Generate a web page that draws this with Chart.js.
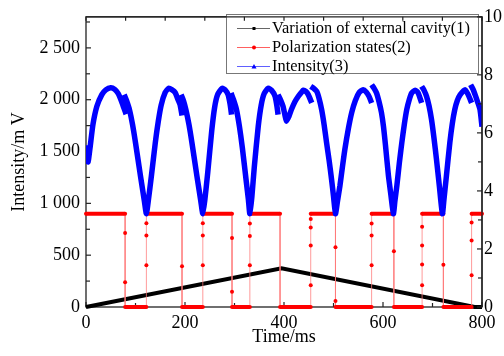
<!DOCTYPE html>
<html><head><meta charset="utf-8">
<script src="https://cdn.jsdelivr.net/npm/chart.js@4.4.1/dist/chart.umd.min.js"></script>
<style>html,body{margin:0;padding:0;background:#fff}#wrap{width:504px;height:356px;position:relative}</style>
</head><body><div id="wrap"><canvas id="c" width="504" height="356"></canvas></div>
<script>
// ---- data ----
const seriesLabels = ['Variation of external cavity(1)', 'Polarization states(2)', 'Intensity(3)'];
const cavityPoints = [[0,0],[395,1.33],[785,0],[800,0]];
const polarizationPoints = [
  [0,900],[79,900],[79,714],[79,240],[79,0],
  [122,0],[122,402],[122,690],[122,808],[122,900],
  [194,900],[194,392],[194,0],
  [236,0],[236,402],[236,690],[236,808],[236,900],
  [295,900],[295,666],[295,146],[295,0],
  [331,0],[331,402],[331,686],[331,806],[331,900],
  [392,900],[392,0],
  [454,0],[454,210],[454,593],[454,768],[454,848],[454,900],
  [504,900],[504,577],[504,57],[504,0],
  [577,0],[577,402],[577,690],[577,806],[577,900],
  [622,900],[622,537],[622,0],
  [679,0],[679,210],[679,410],[679,593],[679,775],[679,900],
  [722,900],[722,408],[722,0],
  [779,0],[779,306],[779,641],[779,816],[779,900],
  [800,900]
];
const intensityPoints = [
  [0,1560],[4,1400],[8,1530],[14,1760],[22,1937],[32,2049],[40,2095],[50,2115],[58,2100],[65,2060],[73,1969],[81,1860],[79,null],
  [77,2049],[82,1990],[88,1900],[94,1760],[100,1585],[110,1266],[118,1020],[122,900],
  [126,1030],[132,1260],[140,1585],[146,1790],[152,1950],[160,2070],[167,2110],[174,2095],[180,2070],[186,2000],[190,1953],[194,1848],[193,null],
  [192,2049],[197,1990],[202,1900],[208,1760],[214,1585],[224,1266],[232,1020],[236,900],
  [240,1030],[246,1300],[254,1700],[260,1930],[266,2050],[275,2110],[281,2095],[287,2049],[291,1960],[294,1857],[293,null],
  [293,2065],[298,2000],[304,1905],[310,1740],[316,1530],[324,1202],[328,1040],[331,900],
  [335,1060],[340,1350],[348,1745],[354,1950],[360,2060],[368,2110],[375,2090],[382,2033],[386,1930],[388,1857],[388,null],
  [388,2049],[393,2000],[398,1937],[402,1850],[405,1793],[410,1840],[415,1905],[422,1980],[429,2033],[435,2070],[439,2091],[444,2080],[449,2049],[456,1969],[455,null],
  [454,2129],[460,2110],[466,2081],[471,2010],[476,1905],[481,1760],[486,1585],[491,1420],[496,1234],[500,1070],[504,900],
  [508,1020],[513,1170],[518,1350],[523,1522],[530,1720],[537,1880],[544,1990],[552,2070],[560,2097],[566,2075],[572,2030],[577,1969],[577,null],
  [577,2145],[582,2110],[587,2065],[592,1980],[597,1873],[601,1740],[605,1560],[611,1266],[616,1080],[621,900],
  [624,1020],[628,1170],[633,1390],[638,1585],[643,1760],[648,1905],[653,2000],[658,2065],[665,2091],[671,2065],[678,1969],[678,null],
  [678,2129],[683,2090],[688,2033],[693,1940],[698,1809],[703,1630],[708,1426],[714,1160],[720,900],
  [723,1030],[728,1260],[735,1585],[740,1770],[745,1905],[750,1990],[756,2049],[766,2097],[772,2049],[779,1969],[778,null],
  [777,2145],[782,2100],[786,2049],[791,1980],[796,1905],[800,1740]
];
const xTicks = [0,200,400,600,800];
const xMinorTicks = [100,300,500,700];
const topTicks = [0,80,160,240,320,400,480,560,640,720,800];
const leftTicks = [0,500,1000,1500,2000,2500];
const leftTickLabels = ['0','500','1 000','1 500','2 000','2 500'];
const leftMinorTicks = [250,750,1250,1750,2250,2750];
const rightTicks = [0,2,4,6,8,10];
const rightMinorTicks = [1,3,5,7,9];

const toXY = arr => arr.map(p => ({x:p[0], y:p[1]}));
const serif = '"Liberation Serif","Times New Roman",serif';
const tickFont = {family: serif, size: 18};

function drawLine(ctx,x1,y1,x2,y2){ctx.beginPath();ctx.moveTo(x1,y1);ctx.lineTo(x2,y2);ctx.stroke();}
function drawTopRight(chart){
  const {ctx, chartArea:a, scales} = chart;
  ctx.save();
  ctx.strokeStyle='#222'; ctx.lineWidth=1.3;
  drawLine(ctx,a.left,a.top,a.right,a.top);
  drawLine(ctx,a.right,a.top,a.right,a.bottom);
  ctx.lineWidth=1.2;
  topTicks.forEach(v=>{const p=scales.x.getPixelForValue(v); drawLine(ctx,p,a.top,p,a.top+4);});
  rightTicks.forEach(v=>{const p=scales.y1.getPixelForValue(v); drawLine(ctx,a.right,p,a.right-5,p);});
  rightMinorTicks.forEach(v=>{const p=scales.y1.getPixelForValue(v); drawLine(ctx,a.right,p,a.right-4,p);});
  ctx.restore();
}

const frameTicks = {
  id:'frameTicks',
  beforeDatasetsDraw(chart){
    const {ctx, chartArea:a, scales} = chart;
    ctx.save();
    ctx.strokeStyle = '#222';
    ctx.lineWidth = 1.3;
    ctx.strokeRect(a.left, a.top, a.right - a.left, a.bottom - a.top);
    ctx.lineWidth = 1.2;
    xTicks.forEach(v=>{const p=scales.x.getPixelForValue(v); drawLine(ctx,p,a.bottom,p,a.bottom-5);});
    xMinorTicks.forEach(v=>{const p=scales.x.getPixelForValue(v); drawLine(ctx,p,a.bottom,p,a.bottom-4);});
    leftTicks.forEach(v=>{const p=scales.y.getPixelForValue(v); drawLine(ctx,a.left,p,a.left+5,p);});
    leftMinorTicks.forEach(v=>{const p=scales.y.getPixelForValue(v); drawLine(ctx,a.left,p,a.left+4,p);});
    ctx.restore();
  },
  afterDraw(chart){ drawTopRight(chart); }
};

const boxLegend = {
  id:'boxLegend',
  afterDatasetsDraw(chart){
    const ctx = chart.ctx;
    const L=226.5, T=14.5, R=478.5, B=73.5;
    ctx.save();
    ctx.fillStyle='#fff'; ctx.fillRect(L,T,R-L,B-T);
    ctx.strokeStyle='#777'; ctx.lineWidth=1; ctx.strokeRect(L,T,R-L,B-T);
    const rows=[28.5,47.5,66.5];
    chart.data.datasets.forEach((ds,i)=>{
      const y=rows[i];
      ctx.strokeStyle=ds.legendLine; ctx.lineWidth=1;
      ctx.beginPath(); ctx.moveTo(237,y); ctx.lineTo(270,y); ctx.stroke();
      ctx.fillStyle=ds.legendMarker;
      const cx=254;
      if(i===0){ ctx.fillRect(cx-1.5,y-1.5,3,3); }
      else if(i===1){ ctx.beginPath(); ctx.arc(cx,y,2,0,Math.PI*2); ctx.fill(); }
      else { ctx.beginPath(); ctx.moveTo(cx,y-2.5); ctx.lineTo(cx+2.5,y+2); ctx.lineTo(cx-2.5,y+2); ctx.closePath(); ctx.fill(); }
      ctx.fillStyle='#000'; ctx.font='16.4px '+serif; ctx.textBaseline='middle'; ctx.textAlign='left';
      ctx.fillText(ds.label, 272, y+0.5);
    });
    ctx.restore();
  }
};

new Chart(document.getElementById('c'), {
  type:'line',
  data:{
    datasets:[
      {label:seriesLabels[0], data:toXY(cavityPoints), yAxisID:'y1', borderColor:'#000', borderWidth:4, pointRadius:0, order:3,
       clip:4, legendLine:'#666', legendMarker:'#000'},
      {label:seriesLabels[1], data:toXY(polarizationPoints), yAxisID:'y', borderColor:'#ff0000', borderWidth:1,
       pointRadius:2, pointBackgroundColor:'#ff0000', pointBorderWidth:0, order:2, clip:4,
       segment:{
         borderColor: c => c.p0.parsed.y === c.p1.parsed.y ? '#ff0000' : 'rgba(255,120,120,0.75)',
         borderWidth: c => c.p0.parsed.y === c.p1.parsed.y ? 4 : 1
       },
       legendLine:'#ff6060', legendMarker:'#ff0000'},
      {label:seriesLabels[2], data:toXY(intensityPoints), yAxisID:'y', borderColor:'#0000ff', borderWidth:5.5, pointRadius:0,
       tension:0.2, spanGaps:false, order:1, legendLine:'#6060ff', legendMarker:'#0000ff'}
    ]
  },
  options:{
    responsive:false, animation:false, devicePixelRatio:1,
    layout:{padding:{top:14, right:0, left:0, bottom:0}},
    plugins:{legend:{display:false}, tooltip:{enabled:false}},
    scales:{
      x:{type:'linear', position:'bottom', min:0, max:800,
        afterBuildTicks: s => { s.ticks = xTicks.map(v=>({value:v})); },
        afterFit: s => { s.height = 49; },
        grid:{display:false, drawTicks:false}, border:{display:false},
        ticks:{font:tickFont, color:'#000', padding:5, maxRotation:0, autoSkip:false},
        title:{display:true, text:'Time/ms', font:tickFont, color:'#000', padding:{top:0, bottom:8}}
      },
      y:{type:'linear', position:'left', min:0, max:2800,
        afterBuildTicks: s => { s.ticks = leftTicks.map(v=>({value:v})); },
        afterFit: s => { s.width = 86; },
        grid:{display:false, drawTicks:false}, border:{display:false},
        ticks:{font:tickFont, color:'#000', padding:6, autoSkip:false,
          callback: v => leftTickLabels[leftTicks.indexOf(v)]},
        title:{display:true, text:'Intensity/m V', font:tickFont, color:'#000', padding:{top:8, bottom:0}}
      },
      y1:{type:'linear', position:'right', min:0, max:10,
        afterBuildTicks: s => { s.ticks = rightTicks.map(v=>({value:v})); },
        afterFit: s => { s.width = 22; },
        grid:{display:false, drawTicks:false}, border:{display:false},
        ticks:{font:tickFont, color:'#000', padding:2, autoSkip:false}
      }
    }
  },
  plugins:[boxLegend, frameTicks]
});
</script></body></html>
